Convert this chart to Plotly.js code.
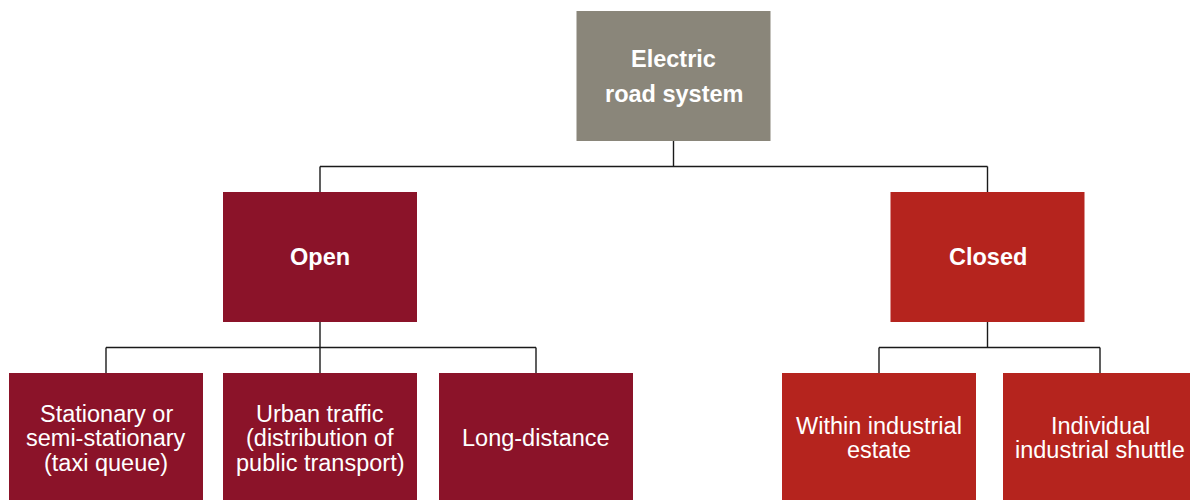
<!DOCTYPE html>
<html>
<head>
<meta charset="utf-8">
<script src="https://cdn.plot.ly/plotly-3.0.1.min.js"></script>
<style>html,body{margin:0;padding:0;background:#fff;}#chart{width:1190px;height:500px;}</style>
</head>
<body>
<div id="chart"></div>
<script>
// ---- data ----
const nodeIds     = ["root", "open", "closed", "stat", "urban", "long", "within", "indiv"];
const nodeLabels  = [
  ["Electric", "road system"],
  ["Open"],
  ["Closed"],
  ["Stationary or", "semi-stationary", "(taxi queue)"],
  ["Urban traffic", "(distribution of", "public transport)"],
  ["Long-distance"],
  ["Within industrial", "estate"],
  ["Individual", "industrial shuttle"]
];
const nodeParents = ["", "root", "root", "open", "open", "open", "closed", "closed"];
const nodeLevels  = [0, 1, 1, 2, 2, 2, 2, 2];

// ---- layout (positions / styles) ----
const nodeX      = [673.5, 320, 987.5, 106, 320, 536, 879, 1100];
const levelTop   = [11, 192, 373];
const boxW = 194, boxH = 130;
const levelLineGap = [35, 24.5, 24.5];
const levelBold  = [true, true, false];
const fontSize = 23.5;
const nodeColor  = {root: "#8a867a", open: "#8b1329", closed: "#b5241e"};
function colorOf(i) {
  if (nodeIds[i] === "root") return nodeColor.root;
  let id = nodeIds[i];
  while (id !== "open" && id !== "closed") id = nodeParents[nodeIds.indexOf(id)];
  return nodeColor[id];
}

const shapes = [];
const annotations = [];
const lineStyle = {color: "#1a1a1a", width: 1.4};

// connectors
nodeIds.forEach((id, i) => {
  const kids = nodeIds.map((_, j) => j).filter(j => nodeParents[j] === id);
  if (!kids.length) return;
  const pBottom = levelTop[nodeLevels[i]] + boxH;
  const cTop = levelTop[nodeLevels[kids[0]]];
  const midY = (pBottom + cTop) / 2;
  shapes.push({type: "line", xref: "x", yref: "y", x0: nodeX[i], x1: nodeX[i], y0: pBottom, y1: midY, line: lineStyle, layer: "below"});
  const xs = kids.map(k => nodeX[k]);
  shapes.push({type: "line", xref: "x", yref: "y", x0: Math.min(...xs), x1: Math.max(...xs), y0: midY, y1: midY, line: lineStyle, layer: "below"});
  kids.forEach(k => {
    shapes.push({type: "line", xref: "x", yref: "y", x0: nodeX[k], x1: nodeX[k], y0: midY, y1: cTop, line: lineStyle, layer: "below"});
  });
});

// boxes + text
nodeIds.forEach((id, i) => {
  const lvl = nodeLevels[i];
  const top = levelTop[lvl];
  shapes.push({type: "rect", xref: "x", yref: "y", x0: nodeX[i] - boxW / 2, x1: nodeX[i] + boxW / 2,
    y0: top, y1: top + boxH, fillcolor: colorOf(i), line: {width: 0}, layer: "above"});
  const lines = nodeLabels[i];
  const cy = top + boxH / 2;
  const gap = levelLineGap[lvl];
  lines.forEach((t, k) => {
    annotations.push({
      xref: "x", yref: "y", x: nodeX[i], y: cy + (k - (lines.length - 1) / 2) * gap,
      text: levelBold[lvl] ? "<b>" + t + "</b>" : t,
      showarrow: false, xanchor: "center", yanchor: "middle",
      font: {family: "Liberation Sans, Arial, sans-serif", size: fontSize, color: "#ffffff"}
    });
  });
});

const layout = {
  width: 1190, height: 500,
  margin: {l: 0, r: 0, t: 0, b: 0},
  paper_bgcolor: "#ffffff", plot_bgcolor: "#ffffff",
  xaxis: {range: [0, 1190], visible: false, fixedrange: true},
  yaxis: {range: [500, 0], visible: false, fixedrange: true},
  showlegend: false,
  shapes: shapes,
  annotations: annotations
};

Plotly.newPlot("chart", [{x: [], y: [], type: "scatter", hoverinfo: "skip"}], layout, {displayModeBar: false, staticPlot: true});
</script>
</body>
</html>
